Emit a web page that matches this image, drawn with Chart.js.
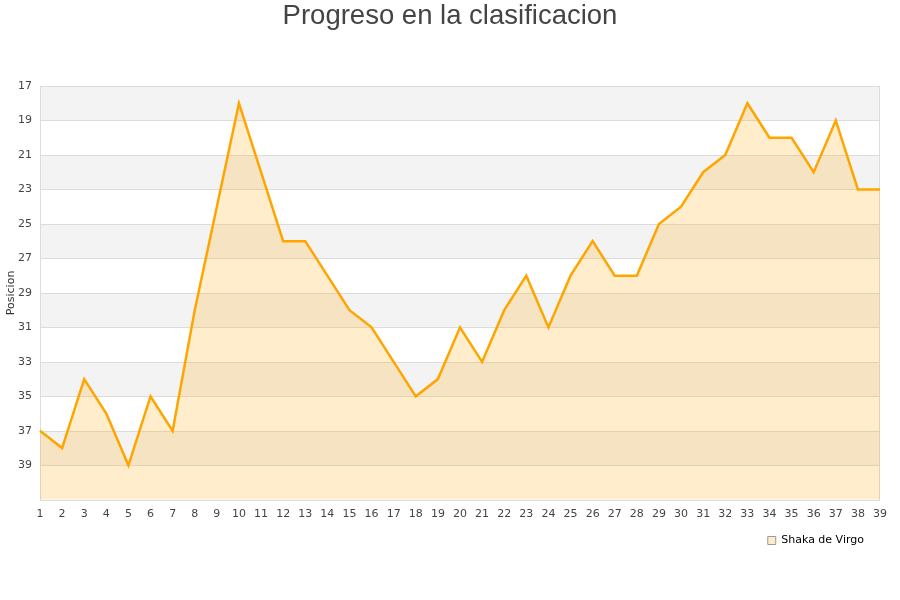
<!DOCTYPE html>
<html><head><meta charset="utf-8">
<script src="https://cdn.jsdelivr.net/npm/chart.js@4"></script>
<style>html,body{margin:0;padding:0;background:#fff}#w{width:900px;height:600px}</style>
</head><body><div id="w"><canvas id="c" width="900" height="600"></canvas></div>
<script>
const jornadas = ["1","2","3","4","5","6","7","8","9","10","11","12","13","14","15","16","17","18","19","20","21","22","23","24","25","26","27","28","29","30","31","32","33","34","35","36","37","38","39"];
const posiciones = [37,38,34,36,39,35,37,30,24,18,22,26,26,28,30,31,33,35,34,31,33,30,28,31,28,26,28,28,25,24,22,21,18,20,20,22,19,23,23];
const yTicks = [17,19,21,23,25,27,29,31,33,35,37,39,41];
const yLabels = ["17","19","21","23","25","27","29","31","33","35","37","39",""];
const serieNombre = "Shaka de Virgo";

const bands = {
  id:'bands',
  afterLayout(chart){
    if(chart.legend){ chart.legend.right -= 10; }
    if(chart.titleBlock){ chart.titleBlock.right += 20; }
  },
  beforeDatasetsDraw(chart){
    const {ctx, chartArea:a, scales:{y}} = chart;
    ctx.save();
    for(let i=0;i<yTicks.length-1;i+=2){
      const t = y.getPixelForValue(yTicks[i]), b = y.getPixelForValue(yTicks[i+1]);
      ctx.fillStyle='#f3f3f3';
      ctx.fillRect(a.left, Math.min(t,b), a.right-a.left, Math.abs(b-t));
    }
    ctx.strokeStyle='#dcdcdc'; ctx.lineWidth=1;
    for(const v of yTicks){
      const p=Math.round(y.getPixelForValue(v))+0.5;
      ctx.beginPath(); ctx.moveTo(a.left,p); ctx.lineTo(a.right,p); ctx.stroke();
    }
    ctx.strokeRect(Math.round(a.left)+0.5, Math.round(a.top)+0.5, Math.round(a.right-a.left)-1, Math.round(a.bottom-a.top));
    ctx.restore();
  }
};

new Chart(document.getElementById('c'), {
  type:'line',
  data:{labels:jornadas, datasets:[{
    label:serieNombre, data:posiciones,
    borderColor:'#ffa500', borderWidth:2.5, backgroundColor:'rgba(255,165,0,0.2)',
    fill:'start', tension:0, pointRadius:0, pointHoverRadius:0
  }]},
  plugins:[bands],
  options:{
    responsive:false, animation:false,
    layout:{padding:{left:0,right:20,top:0,bottom:44}},
    plugins:{
      title:{display:true, text:'Progreso en la clasificacion', color:'#444',
        font:{family:'Liberation Sans, Arial, sans-serif', size:27.5, weight:'normal'},
        padding:{top:0,bottom:53}},
      legend:{position:'bottom', align:'end',
        labels:{color:'#000', font:{family:'DejaVu Sans, Verdana, sans-serif', size:11},
          boxWidth:8, boxHeight:8, padding:6,
          generateLabels(chart){return [{text:serieNombre, fillStyle:'#ffebc8', strokeStyle:'#999', lineWidth:1, datasetIndex:0}];}}},
      tooltip:{enabled:false}
    },
    scales:{
      x:{offset:false, grid:{display:false, drawTicks:false}, border:{display:false},
        ticks:{color:'#444', padding:8, autoSkip:false, maxRotation:0, font:{family:'DejaVu Sans, Verdana, sans-serif', size:11}}},
      y:{reverse:true, min:17, max:41,
        afterBuildTicks(s){s.ticks=yTicks.map(v=>({value:v}));},
        afterFit(s){s.width=40;},
        grid:{display:false, drawTicks:false}, border:{display:false},
        title:{display:true, text:'Posicion', color:'#333', padding:{top:5,bottom:0}, font:{family:'DejaVu Sans, Verdana, sans-serif', size:11}},
        ticks:{color:'#444', padding:8, font:{family:'DejaVu Sans, Verdana, sans-serif', size:11},
          callback(v,i){return yLabels[i];}}}
    }
  }
});
</script></body></html>
